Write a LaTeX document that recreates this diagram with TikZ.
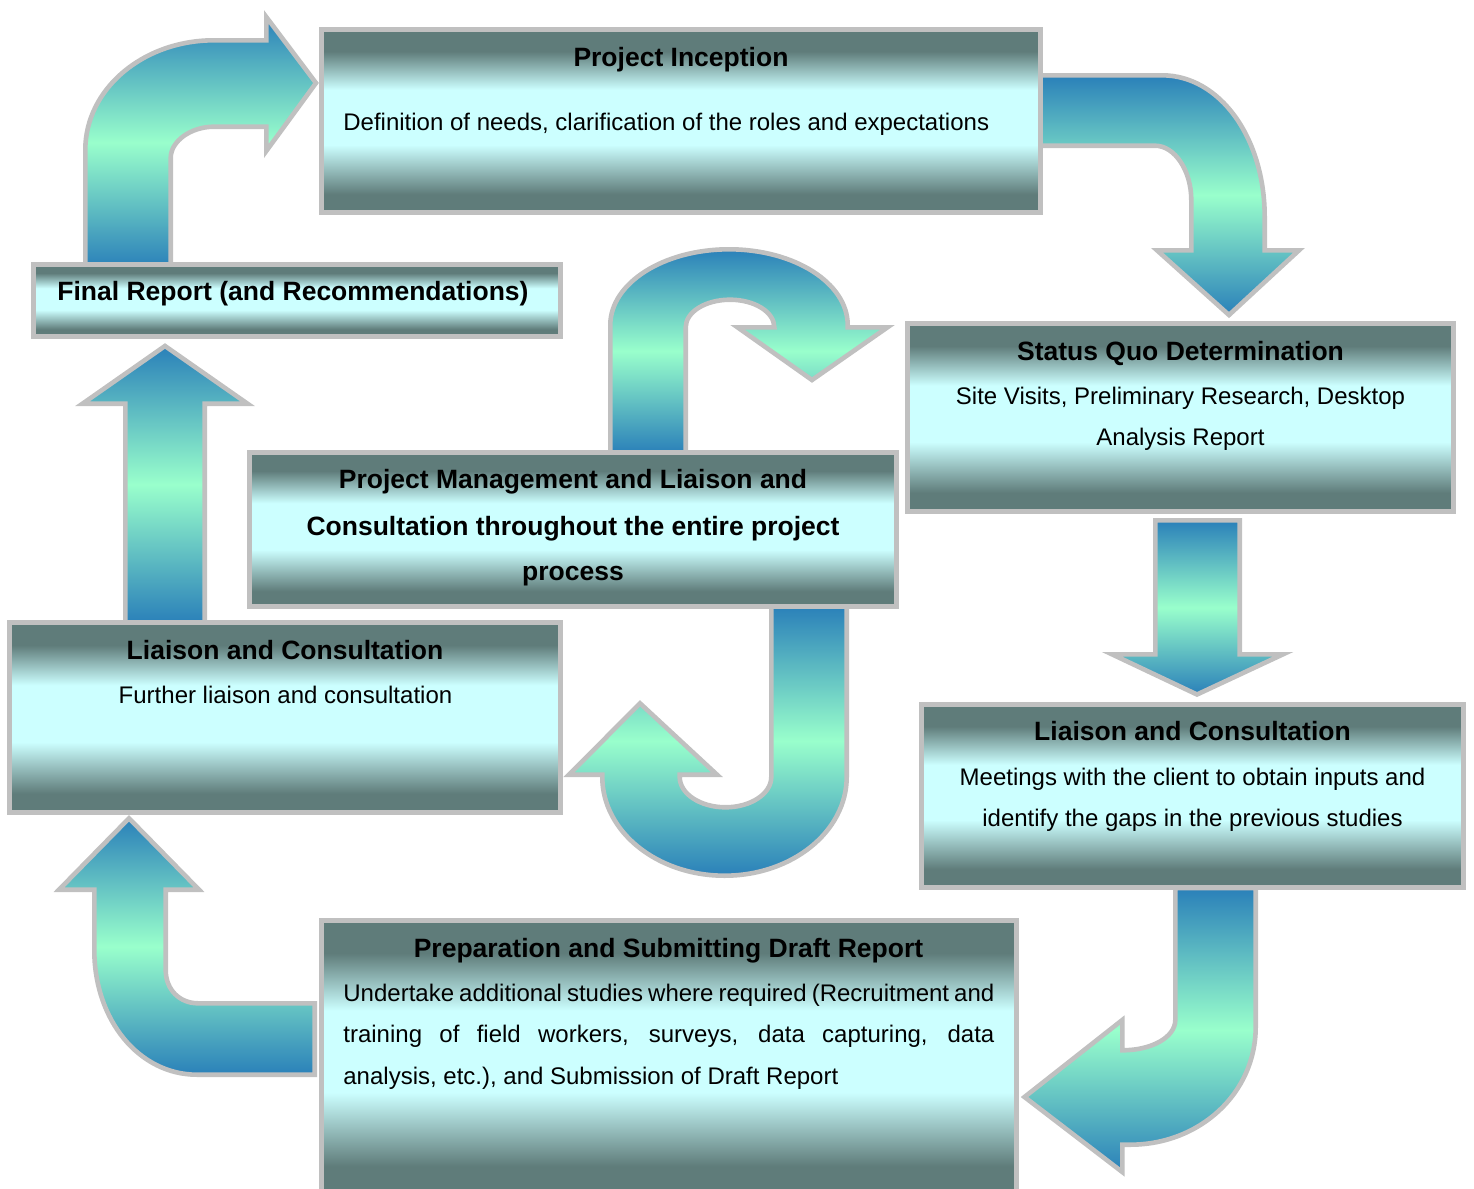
\documentclass[tikz,border=0pt]{standalone}
\usepackage{fontspec}
\setmainfont{Liberation Sans}
\definecolor{boxdk}{HTML}{5F7C7A}
\definecolor{boxlt}{HTML}{CCFFFF}
\definecolor{arrblue}{HTML}{2A80B9}
\definecolor{arrmint}{HTML}{99FFCC}
\definecolor{edgegray}{HTML}{C0C0C0}
\pgfdeclareverticalshading{boxshade}{100bp}{%
 color(0bp)=(boxdk); color(25bp)=(boxdk); color(30bp)=(boxdk);
 color(43.5bp)=(boxlt); color(58.5bp)=(boxlt); color(69bp)=(boxdk);
 color(75bp)=(boxdk); color(100bp)=(boxdk)}
\begin{document}
\begin{tikzpicture}[x=0.5pt,y=-0.5pt,
  stepbox/.style={draw=edgegray, line width=2.4pt, shade, shading=boxshade, inner sep=0pt, outer sep=0pt},
  flowarrow/.style={draw=edgegray, line width=2.3pt, top color=arrblue, bottom color=arrblue, middle color=arrmint},
  ttl/.style={font=\fontsize{13.25}{16}\selectfont\bfseries, anchor=base, inner sep=0pt},
  txt/.style={font=\fontsize{12}{14}\selectfont, anchor=base, inner sep=0pt},
]
\useasboundingbox[fill=white] (0,0) rectangle (1474,1189);

% ---- block arrows ----
% Final Report -> Project Inception
\path[flowarrow] (85.3,268) -- (85.3,150) .. controls (85.3,89) and (143,40.3) .. (214,40.3)
  -- (266.3,40.3) -- (266.3,17) -- (316,83) -- (266.3,151) -- (266.3,126.7) -- (214,126.7)
  .. controls (191,126.7) and (170.7,141) .. (170.7,158) -- (170.7,268) -- cycle;
% Project Inception -> Status Quo
\path[flowarrow] (1036,75.3) -- (1162,75.3) .. controls (1220,75.3) and (1264.7,138) .. (1264.7,217)
  -- (1264.7,250.3) -- (1299,250.3) -- (1229,315) -- (1157,250.3) -- (1191.3,250.3) -- (1191.3,200)
  .. controls (1191.3,171) and (1175,145.7) .. (1155,145.7) -- (1036,145.7) -- cycle;
% Status Quo -> Liaison (right)
\path[flowarrow] (1155.3,520.3) -- (1239.7,520.3) -- (1239.7,654.3) -- (1283,654.3) -- (1197,694.5)
  -- (1112,654.3) -- (1155.3,654.3) -- cycle;
% Liaison (right) -> Preparation
\path[flowarrow] (1175.3,888) -- (1255.7,888) -- (1255.7,1027) .. controls (1255.7,1093) and (1200,1144.7) .. (1130,1144.7)
  -- (1122.3,1144.7) -- (1122.3,1172) -- (1024.5,1097) -- (1122.3,1020) -- (1122.3,1050.3)
  .. controls (1152,1050.3) and (1175.3,1037) .. (1175.3,1020) -- cycle;
% Preparation -> Liaison (left)
\path[flowarrow] (129,818.3) -- (199,889.7) -- (165.7,889.7) -- (165.7,970)
  .. controls (165.7,990) and (180,1003.3) .. (198,1003.3) -- (314.7,1003.3) -- (314.7,1074.7) -- (197,1074.7)
  .. controls (139,1074.7) and (94.3,1020) .. (94.3,950) -- (94.3,889.7) -- (59,889.7) -- cycle;
% Liaison (left) -> Final Report
\path[flowarrow] (165,346) -- (247.5,403.7) -- (204.7,403.7) -- (204.7,623) -- (125.3,623)
  -- (125.3,403.7) -- (82.5,403.7) -- cycle;
% Project Management -> Status Quo (U arrow)
\path[flowarrow] (610.3,453) -- (610.3,325) .. controls (610.3,283.2) and (663.5,249.3) .. (729,249.3)
  .. controls (794.5,249.3) and (847.7,283.2) .. (847.7,325) -- (847.7,327.3) -- (887.5,327.3) -- (812,380)
  -- (737.5,327.3) -- (774.3,327.3) .. controls (774.3,312) and (754.5,299.7) .. (730,299.7)
  .. controls (705.5,299.7) and (685.7,312) .. (685.7,327.3) -- (685.7,453) -- cycle;
% Project Management -> Liaison (left) (J arrow)
\path[flowarrow] (771.3,606) -- (846.7,606) -- (846.7,777) .. controls (846.7,831.5) and (792,875.7) .. (724.5,875.7)
  .. controls (657,875.7) and (602.3,831.5) .. (602.3,777) -- (602.3,774.7) -- (569,774.7) -- (640,703.3)
  -- (717,774.7) -- (679.7,774.7) -- (679.7,777) .. controls (679.7,793.7) and (700.2,807.3) .. (725.5,807.3)
  .. controls (750.8,807.3) and (771.3,793.7) .. (771.3,777) -- cycle;

% ---- boxes ----
\node[stepbox, minimum width=359.6pt, minimum height=91.6pt] (inception) at (681,121) {};
\node[stepbox, minimum width=273.1pt, minimum height=94.1pt] (statusquo) at (1180.5,417.5) {};
\node[stepbox, minimum width=271.1pt, minimum height=91.6pt] (liaisonR) at (1192.5,796) {};
\node[stepbox, minimum width=347.6pt, minimum height=136.6pt] (draft) at (669,1057) {};
\node[stepbox, minimum width=275.6pt, minimum height=95.1pt] (liaisonL) at (285,717.5) {};
\node[stepbox, minimum width=323.6pt, minimum height=77.1pt] (pm) at (573,529.5) {};
\node[stepbox, minimum width=263.6pt, minimum height=36.1pt] (final) at (297,300.5) {};

% ---- texts ----
\node[ttl] (inceptionT) at (681,66.5) {Project Inception};
\node[txt, anchor=base west] (inceptionB) at (343,130) {Definition of needs, clarification of the roles and expectations};

\node[ttl] (statusquoT) at (1180.5,360) {Status Quo Determination};
\node[txt] (statusquoB1) at (1180.5,404.5) {Site Visits, Preliminary Research, Desktop};
\node[txt] (statusquoB2) at (1180.5,445.5) {Analysis Report};

\node[ttl] (liaisonRT) at (1192.5,740) {Liaison and Consultation};
\node[txt] (liaisonRB1) at (1192.5,785) {Meetings with the client to obtain inputs and};
\node[txt] (liaisonRB2) at (1192.5,826) {identify the gaps in the previous studies};

\node[ttl] (draftT) at (668.5,957) {Preparation and Submitting Draft Report};
\node[txt, anchor=base west] (draftB1) at (343,1001) {\makebox[325.5pt][s]{Undertake additional studies where required (Recruitment and}};
\node[txt, anchor=base west] (draftB2) at (343,1042.5) {\makebox[325.5pt][s]{training of field workers, surveys, data capturing, data}};
\node[txt, anchor=base west] (draftB3) at (343,1084) {analysis, etc.), and Submission of Draft Report};

\node[ttl] (liaisonLT) at (285,659.5) {Liaison and Consultation};
\node[txt] (liaisonLB) at (285.5,703.5) {Further liaison and consultation};

\node[ttl] (pmT1) at (573,488.5) {Project Management and Liaison and};
\node[ttl] (pmT2) at (573,535) {Consultation throughout the entire project};
\node[ttl] (pmT3) at (573,580.5) {process};

\node[ttl, anchor=base west] (finalT) at (57,300) {Final Report (and Recommendations)};
\end{tikzpicture}
\end{document}
